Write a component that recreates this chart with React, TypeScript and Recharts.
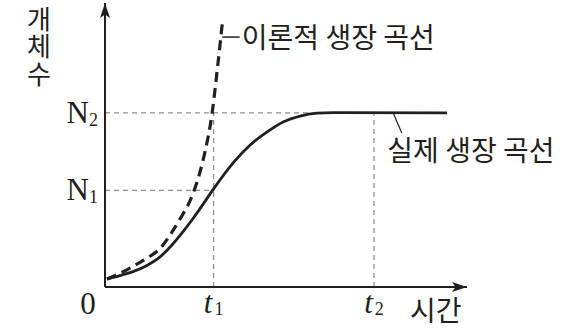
import React from 'react';
import { LineChart, Line, XAxis, YAxis, ReferenceLine, ReferenceDot } from 'recharts';

// ---- data ----
const T1 = 30;
const T2 = 74.3;
const N1 = 34;
const N2 = 61.3;

const timeTicks = [0, T1, T2];
const timeTickMain = ['0', 't', 't'];
const timeTickSub = ['', '1', '2'];
const popTicks = [N1, N2];
const popTickMain = ['N', 'N'];
const popTickSub = ['1', '2'];

const theoreticalX = [0.55, 4.9, 7.3, 9.7, 12.4, 15.2, 18.0, 20.7, 23.5, 24.6, 26.0, 27.6, 29.6, 31.1, 32.5];
const theoreticalY = [2.8, 5.3, 6.9, 8.7, 10.8, 13.5, 18.4, 23.9, 30.4, 33.9, 39.4, 47.5, 61.3, 77.5, 94.0];

const actualX = [0.55, 4.1, 7.7, 11.6, 15.2, 18.5, 21.5, 23.5, 26.2, 29.8, 35.4, 40.1, 44.8, 49.2, 53.9, 58.6, 63.0, 94.5];
const actualY = [2.8, 4.0, 5.4, 7.6, 10.6, 14.8, 19.4, 22.7, 27.5, 34.2, 43.7, 50.0, 54.6, 58.1, 60.2, 61.2, 61.4, 61.3];

const curveLabels = ['이론적 생장 곡선', '실제 생장 곡선'];
const yTitle = '개체수';
const xTitle = '시간';

const theoretical = theoreticalX.map((x, i) => ({ x, y: theoreticalY[i] }));
const actual = actualX.map((x, i) => ({ x, y: actualY[i] }));

// ---- styles ----
const INK = '#231f20';
const GUIDE = '#8f8f8f';
const SERIF = '"Liberation Serif", "Times New Roman", serif';
const KR = '"Noto Sans CJK KR", "Noto Sans", sans-serif';

const XTick = (props: any) => {
  const { x, y, payload } = props;
  const i = timeTicks.indexOf(payload.value);
  if (i === 0) {
    return (
      <text x={x - 17} y={y + 27} textAnchor="middle" fontFamily={SERIF} fontSize={31} fill={INK}>
        {timeTickMain[i]}
      </text>
    );
  }
  return (
    <text x={x} y={y + 26} textAnchor="middle" fontFamily={SERIF} fontSize={31} fill={INK}>
      <tspan fontStyle="italic">{timeTickMain[i]}</tspan>
      <tspan fontSize={18} dx={2} dy={2}>{timeTickSub[i]}</tspan>
    </text>
  );
};

const YTick = (props: any) => {
  const { x, y, payload } = props;
  const i = popTicks.indexOf(payload.value);
  return (
    <text x={x - 7} y={y + 10} textAnchor="end" fontFamily={SERIF} fontSize={31} fill={INK}>
      <tspan>{popTickMain[i]}</tspan>
      <tspan fontSize={18} dy={3}>{popTickSub[i]}</tspan>
    </text>
  );
};

const YTitle = (props: any) => {
  const vb = props.viewBox;
  return (
    <text
      x={vb.x + 39}
      y={vb.y + 3}
      fontFamily={KR}
      fontSize={26}
      letterSpacing={1.5}
      fill={INK}
      style={{ writingMode: 'vertical-rl' }}
    >
      {yTitle}
    </text>
  );
};

const XTitle = (props: any) => {
  const vb = props.viewBox;
  return (
    <text x={vb.x + 305} y={vb.y + 34} fontFamily={KR} fontSize={28} fill={INK}>
      {xTitle}
    </text>
  );
};

const ArrowRight = (props: any) => {
  const { cx, cy } = props;
  return (
    <path
      d={`M${cx},${cy} L${cx - 15},${cy - 5} L${cx - 11.5},${cy} L${cx - 15},${cy + 5} Z`}
      fill={INK}
    />
  );
};

const ArrowUp = (props: any) => {
  const { cx, cy } = props;
  return (
    <path
      d={`M${cx},${cy} L${cx - 5},${cy + 15} L${cx},${cy + 11.5} L${cx + 5},${cy + 15} Z`}
      fill={INK}
    />
  );
};

const makeCurveText = (text: string, dy: number) => (props: any) => {
  const { cx, cy } = props;
  return (
    <text x={cx} y={cy + dy} fontFamily={KR} fontSize={28} fill={INK} textAnchor="start">
      {text}
    </text>
  );
};

export default function App() {
  return (
    <div style={{ width: 574, height: 335 }}>
      <style>{'body{margin:0}'}</style>
      <LineChart width={574} height={335} margin={{ top: 3, right: 107, bottom: 0, left: 0 }}>
        <XAxis
          type="number"
          dataKey="x"
          domain={[0, 100]}
          ticks={timeTicks}
          interval={0}
          tick={<XTick />}
          tickLine={false}
          tickSize={0}
          tickMargin={0}
          height={48}
          axisLine={{ stroke: INK, strokeWidth: 2 }}
          label={XTitle}
          allowDataOverflow
        />
        <YAxis
          type="number"
          dataKey="y"
          domain={[0, 100]}
          ticks={popTicks}
          interval={0}
          tick={<YTick />}
          tickLine={false}
          tickSize={0}
          tickMargin={0}
          width={105}
          axisLine={{ stroke: INK, strokeWidth: 2 }}
          label={YTitle}
          allowDataOverflow
        />
        <ReferenceLine segment={[{ x: 0, y: N2 }, { x: T2, y: N2 }]} stroke={GUIDE} strokeWidth={1.3} strokeDasharray="5 4" />
        <ReferenceLine segment={[{ x: 0, y: N1 }, { x: T1, y: N1 }]} stroke={GUIDE} strokeWidth={1.3} strokeDasharray="5 4" />
        <ReferenceLine segment={[{ x: T1, y: 0 }, { x: T1, y: N2 }]} stroke={GUIDE} strokeWidth={1.3} strokeDasharray="5 4" />
        <ReferenceLine segment={[{ x: T2, y: 0 }, { x: T2, y: N2 }]} stroke={GUIDE} strokeWidth={1.3} strokeDasharray="5 4" />
        <Line
          data={theoretical}
          dataKey="y"
          type="monotone"
          stroke={INK}
          strokeWidth={3.2}
          strokeDasharray="10 6"
          dot={false}
          activeDot={false}
          isAnimationActive={false}
        />
        <Line
          data={actual}
          dataKey="y"
          type="monotone"
          stroke={INK}
          strokeWidth={2.8}
          dot={false}
          activeDot={false}
          isAnimationActive={false}
        />
        <ReferenceLine segment={[{ x: 32.4, y: 88 }, { x: 37.2, y: 88 }]} stroke={INK} strokeWidth={1.5} />
        <ReferenceLine segment={[{ x: 79.6, y: 61.3 }, { x: 82.0, y: 54.2 }]} stroke={INK} strokeWidth={1.2} />
        <ReferenceDot x={37.8} y={88} r={0} ifOverflow="visible" shape={makeCurveText(curveLabels[0], 11)} />
        <ReferenceDot x={78.0} y={48.2} r={0} ifOverflow="visible" shape={makeCurveText(curveLabels[1], 11)} />
        <ReferenceDot x={100} y={0} r={0} ifOverflow="visible" shape={ArrowRight} />
        <ReferenceDot x={0} y={100} r={0} ifOverflow="visible" shape={ArrowUp} />
      </LineChart>
    </div>
  );
}
